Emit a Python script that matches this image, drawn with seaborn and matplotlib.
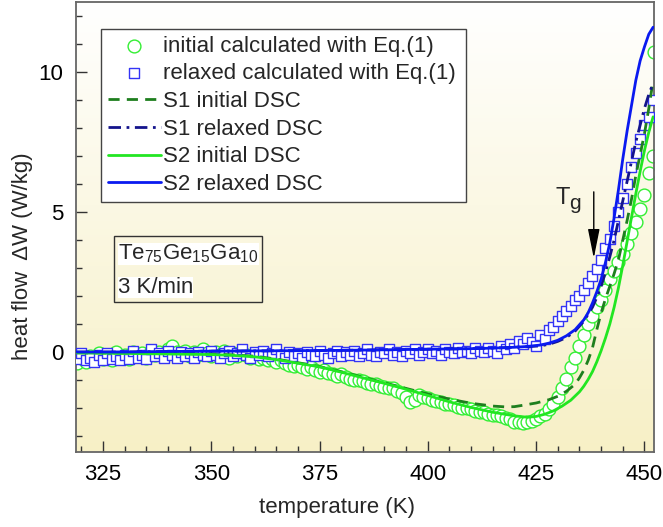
import numpy as np
import matplotlib
matplotlib.use("Agg")
import matplotlib.pyplot as plt
from matplotlib.colors import LinearSegmentedColormap
from matplotlib.patches import Rectangle
from matplotlib.ticker import MultipleLocator
import seaborn as sns

# ---------------- data ----------------
temp_calc = [319, 320, 321, 322, 323, 324, 325, 326, 327, 328, 329, 330, 331, 332, 333, 334,
             335, 336, 337, 338, 339, 340, 341, 342, 343, 344, 345, 346, 347, 348, 349, 350,
             351, 352, 353, 354, 355, 356, 357, 358, 359, 360, 361, 362, 363, 364, 365, 366,
             367, 368, 369, 370, 371, 372, 373, 374, 375, 376, 377, 378, 379, 380, 381, 382,
             383, 384, 385, 386, 387, 388, 389, 390, 391, 392, 393, 394, 395, 396, 397, 398,
             399, 400, 401, 402, 403, 404, 405, 406, 407, 408, 409, 410, 411, 412, 413, 414,
             415, 416, 417, 418, 419, 420, 421, 422, 423, 424, 425, 426, 427, 428, 429, 430,
             431, 432, 433, 434, 435, 436, 437, 438, 439, 440, 441, 442, 443, 444, 445, 446,
             447, 448, 449, 450, 451, 452]

initial_calc = [-0.4, -0.2, -0.35, -0.15, -0.3, -0.05, -0.25, -0.1, -0.3, 0.0, -0.2, -0.1,
                -0.25, 0.0, -0.15, -0.05, -0.2, 0.05, -0.1, 0.0, -0.15, 0.1, 0.2, 0.0,
                -0.1, 0.05, -0.15, 0.0, -0.1, 0.1, -0.05, -0.15, 0.0, -0.1, 0.05, -0.2,
                -0.05, -0.15, 0.0, -0.1, -0.2, -0.15, -0.25, -0.2, -0.3, -0.25, -0.35, -0.3,
                -0.4, -0.45, -0.5, -0.45, -0.55, -0.6, -0.55, -0.65, -0.7, -0.65, -0.75, -0.8,
                -0.85, -0.8, -0.9, -0.95, -1.0, -1.0, -1.05, -1.1, -1.15, -1.15, -1.2, -1.25,
                -1.3, -1.3, -1.4, -1.45, -1.6, -1.8, -1.7, -1.55, -1.6, -1.65, -1.7, -1.75,
                -1.8, -1.85, -1.85, -1.9, -1.95, -2.0, -2.0, -2.05, -2.1, -2.15, -2.15, -2.2,
                -2.25, -2.25, -2.3, -2.35, -2.4, -2.5, -2.5, -2.55, -2.5, -2.45, -2.4, -2.3,
                -2.2, -2.05, -1.85, -1.6, -1.3, -0.95, -0.55, -0.2, 0.2, 0.6, 1.0, 1.3,
                1.6, 1.85, 2.2, 2.6, 2.9, 3.2, 3.5, 3.85, 4.25, 4.65, 5.1, 5.6, 6.4, 7.0]

relaxed_calc = [-0.25, -0.05, -0.3, -0.2, -0.35, -0.1, -0.3, -0.05, -0.25, -0.15, -0.3, -0.1,
                -0.25, 0.05, -0.2, -0.1, -0.25, 0.1, -0.15, -0.05, -0.2, 0.05, -0.1, -0.2,
                0.0, -0.15, -0.05, -0.2, 0.0, -0.1, -0.15, 0.05, -0.1, -0.2, -0.05, 0.05,
                -0.15, -0.05, 0.1, -0.1, -0.2, 0.0, -0.1, 0.05, -0.15, -0.05, 0.1, -0.1,
                -0.2, 0.0, -0.15, -0.05, -0.2, 0.0, -0.1, -0.15, 0.05, -0.1, -0.2, -0.05,
                0.05, -0.15, 0.0, -0.1, 0.05, -0.15, -0.05, 0.1, -0.1, -0.15, 0.0, -0.05,
                0.1, -0.1, 0.0, -0.15, 0.05, -0.05, 0.1, -0.1, 0.0, 0.1, -0.05, 0.05,
                -0.1, 0.1, 0.0, -0.05, 0.15, 0.0, 0.05, -0.05, 0.15, 0.05, 0.0, 0.15,
                0.05, -0.05, 0.2, 0.1, 0.3, 0.15, 0.4, 0.3, 0.5, 0.35, 0.2, 0.6,
                0.45, 0.8, 0.9, 1.1, 1.3, 1.45, 1.65, 1.85, 2.0, 2.2, 2.45, 2.7,
                2.95, 3.3, 3.7, 4.05, 4.5, 5.0, 5.5, 6.0, 6.6, 7.1, 7.6, 8.1, 8.4, 9.0]

# extra edge point of the initial calculated set
initial_calc_edge_t = [452.2]
initial_calc_edge_v = [10.7]

# S1 initial DSC (dashed dark green)
s1_init_t = [319, 330, 340, 350, 355, 360, 365, 370, 375, 380, 385, 390, 395, 400, 405, 410,
             415, 418, 420, 422, 425, 428, 430, 432, 434, 435, 436, 437, 438, 439, 440, 441,
             442, 443, 444, 445, 446, 447, 448, 449, 450, 451, 452]
s1_init_v = [-0.03, -0.04, -0.05, -0.07, -0.1, -0.15, -0.25, -0.38, -0.52, -0.7, -0.9, -1.1,
             -1.3, -1.5, -1.68, -1.83, -1.93, -1.96, -1.95, -1.9, -1.82, -1.7, -1.58, -1.4,
             -1.15, -0.92, -0.65, -0.3, 0.15, 0.8, 1.4, 1.9, 2.35, 2.8, 3.3, 4.0, 4.7, 5.45,
             6.3, 7.05, 7.8, 8.7, 9.7]

# S1 relaxed DSC (dash-dot navy)
s1_rel_t = [319, 330, 340, 350, 360, 370, 380, 390, 400, 410, 415, 420, 423, 426, 428, 430,
            432, 434, 436, 438, 439, 440, 441, 442, 443, 444, 445, 446, 447, 448, 449, 450,
            451, 452]
s1_rel_v = [0.0, 0.0, 0.02, 0.03, 0.04, 0.05, 0.06, 0.08, 0.1, 0.12, 0.14, 0.17, 0.19, 0.22,
            0.28, 0.38, 0.52, 0.75, 1.1, 1.6, 1.95, 2.35, 2.85, 3.4, 4.0, 4.7, 5.4, 6.1, 6.8,
            7.5, 8.1, 8.7, 9.2, 9.6]

# S2 initial DSC (solid green)
s2_init_t = [319, 330, 340, 350, 355, 360, 365, 370, 375, 380, 385, 390, 395, 400, 405, 410,
             415, 420, 423, 425, 427, 429, 431, 433, 435, 436, 437, 438, 439, 440, 441, 442,
             443, 444, 445, 446, 447, 448, 449, 450, 451, 452]
s2_init_v = [-0.03, -0.05, -0.07, -0.09, -0.12, -0.17, -0.27, -0.4, -0.53, -0.72, -0.92, -1.12,
             -1.33, -1.55, -1.78, -1.98, -2.15, -2.28, -2.33, -2.3, -2.22, -2.1, -1.93, -1.72,
             -1.42, -1.22, -0.98, -0.7, -0.35, 0.05, 0.5, 1.0, 1.6, 2.3, 3.1, 3.95, 4.8, 5.65,
             6.45, 7.2, 7.85, 8.4]

# S2 relaxed DSC (solid blue)
s2_rel_t = [319, 330, 340, 350, 360, 370, 380, 390, 400, 410, 415, 420, 423, 426, 428, 430,
            432, 434, 436, 437, 438, 439, 440, 441, 442, 443, 444, 445, 446, 447, 448, 449,
            450, 451, 452]
s2_rel_v = [0.0, 0.0, 0.02, 0.03, 0.04, 0.05, 0.06, 0.08, 0.1, 0.12, 0.14, 0.17, 0.2, 0.25,
            0.32, 0.42, 0.58, 0.8, 1.15, 1.4, 1.75, 2.15, 2.6, 3.2, 3.9, 4.8, 5.8, 6.9, 7.9,
            8.8, 9.7, 10.4, 10.9, 11.35, 11.6]

labels = ["initial calculated with Eq.(1)", "relaxed calculated with Eq.(1)",
          "S1 initial DSC", "S1 relaxed DSC", "S2 initial DSC", "S2 relaxed DSC"]
x_ticks = [325, 350, 375, 400, 425, 450]
y_ticks = [0, 5, 10]

# ---------------- style ----------------
sns.set_style("ticks")
plt.rcParams['font.family'] = ['Liberation Sans', 'DejaVu Sans']
plt.rcParams['mathtext.fontset'] = 'custom'
plt.rcParams['mathtext.rm'] = 'Liberation Sans'
plt.rcParams['mathtext.it'] = 'Liberation Sans'
FS = 16

fig = plt.figure(figsize=(6.63, 5.27), dpi=100)
ax = fig.add_axes([76/663, 75/527, 578/663, 450/527])

# gradient background: white at top, pale yellow at bottom
cmap = LinearSegmentedColormap.from_list(
    "bg", [(0.0, "#FFFFFF"), (0.45, "#FBF8E4"), (1.0, "#F7F0C6")])
grad = np.linspace(0, 1, 256).reshape(-1, 1)
ax.imshow(grad, extent=[0, 1, 0, 1], origin='upper', transform=ax.transAxes,
          aspect='auto', cmap=cmap, zorder=0, interpolation='bilinear')

c_circ = "#33EE33"
c_sq = "#3434F5"

sns.scatterplot(x=temp_calc + initial_calc_edge_t, y=initial_calc + initial_calc_edge_v,
                ax=ax, marker='o', s=85, facecolor='white', edgecolor=c_circ,
                linewidth=1.0, label=labels[0], zorder=2)
sns.scatterplot(x=temp_calc, y=relaxed_calc, ax=ax, marker='s', s=62, facecolor='white',
                edgecolor=c_sq, linewidth=1.0, label=labels[1], zorder=3)
sns.lineplot(x=s1_init_t, y=s1_init_v, ax=ax, color="#1E7F1E", lw=2.0,
             sort=False, estimator=None, label=labels[2], zorder=4)
sns.lineplot(x=s1_rel_t, y=s1_rel_v, ax=ax, color="#14148C", lw=2.0,
             sort=False, estimator=None, label=labels[3], zorder=4)
sns.lineplot(x=s2_init_t, y=s2_init_v, ax=ax, color="#22E622", lw=2.0,
             sort=False, estimator=None, label=labels[4], zorder=5)
sns.lineplot(x=s2_rel_t, y=s2_rel_v, ax=ax, color="#0A1AF0", lw=2.0,
             sort=False, estimator=None, label=labels[5], zorder=6)

lines = ax.get_lines()
lines[0].set_dashes([4, 2.6])
lines[1].set_dashes([4.5, 2, 1, 2])

ax.set_xlim(318.8, 452.2)
ax.set_ylim(-3.57, 12.5)

ax.xaxis.set_minor_locator(MultipleLocator(5))
ax.yaxis.set_minor_locator(MultipleLocator(1))
ax.set_xticks(x_ticks)
ax.set_yticks(y_ticks)
ax.tick_params(which='both', direction='in', top=False, right=False, colors='#333333',
               labelcolor='black', labelsize=FS)
ax.tick_params(which='major', length=8, width=1.0, pad=9)
ax.tick_params(which='minor', length=4.5, width=1.0)
for sp in ax.spines.values():
    sp.set_visible(True)
    sp.set_color('#666666')
    sp.set_linewidth(1.3)

ax.set_xlabel("temperature (K)", fontsize=FS)
ax.set_ylabel("heat flow  \u0394W (W/kg)", fontsize=FS)
ax.xaxis.set_label_coords(0.452, -0.10)
ax.yaxis.set_label_coords(-0.075, 0.435)

leg_x0 = (101 - 76) / 578
leg_w = (466 - 101) / 578
leg_top = (452 - 29) / 450
leg = ax.legend(loc='upper left', bbox_to_anchor=(leg_x0, leg_top - 0.5, leg_w, 0.5),
                mode='expand', fontsize=FS,
                frameon=True, fancybox=False, framealpha=1, edgecolor='#444444',
                handlelength=2.4, handletextpad=0.1, labelspacing=0.3,
                borderpad=0.3, borderaxespad=0, scatterpoints=1)
leg.get_frame().set_linewidth(1.0)
leg.set_zorder(10)

# composition box
ax.add_patch(Rectangle((0.0657, 0.333), 0.256, 0.147, transform=ax.transAxes,
                       fill=False, edgecolor='#333333', lw=1.0, zorder=8))
ax.text(0.0727, 0.427, r"$\mathregular{Te_{75}Ge_{15}Ga_{10}}$", transform=ax.transAxes,
        fontsize=FS, ha='left', va='baseline', zorder=9,
        bbox=dict(facecolor='white', edgecolor='none', pad=0))
ax.text(0.0727, 0.353, "3 K/min", transform=ax.transAxes, fontsize=FS, ha='left',
        va='baseline', zorder=9, bbox=dict(facecolor='white', edgecolor='none', pad=0))

# Tg annotation
ax.text(429.5, 5.3, "T", fontsize=17, ha='left', va='baseline', zorder=9)
ax.text(432.7, 5.12, "g", fontsize=15, ha='left', va='baseline', zorder=9)
ax.annotate("", xy=(438.3, 3.35), xytext=(438.3, 5.72),
            arrowprops=dict(arrowstyle='-|>,head_length=1.8,head_width=0.36',
                            color='black', lw=1.0, mutation_scale=10,
                            shrinkA=0, shrinkB=0), zorder=9)

fig.savefig("out.png", dpi=100)
